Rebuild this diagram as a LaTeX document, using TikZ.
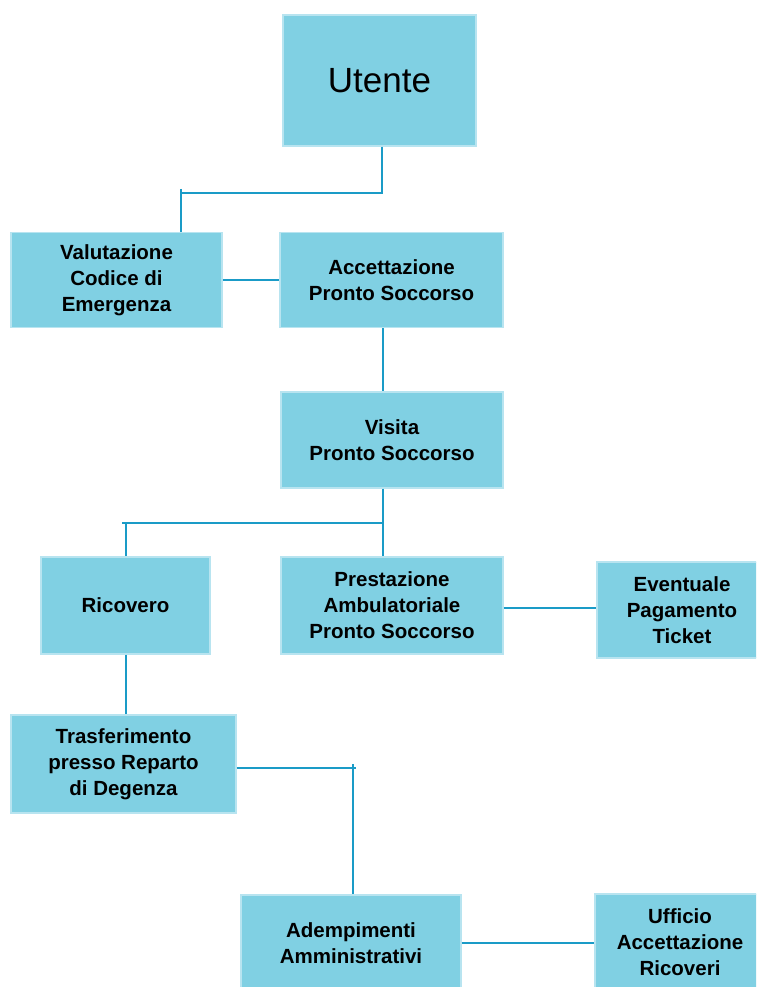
\documentclass[tikz,border=0pt]{standalone}
\usepackage{fontspec}
\setmainfont{Liberation Sans}
\definecolor{boxfill}{HTML}{80D0E3}
\definecolor{boxedge}{HTML}{B8E4F0}
\definecolor{linec}{HTML}{1A9BC7}
\begin{document}
\begin{tikzpicture}[x=1pt,y=-1pt,
  box/.style={rectangle, fill=boxfill, draw=boxedge, line width=1.2pt, inner sep=0pt, align=center,
    font=\bfseries\fontsize{20.5}{26}\selectfont},
  conn/.style={draw=linec, line width=2pt}]
\useasboundingbox (0,0) rectangle (756,987);
\clip (0,0) rectangle (756,987);
\fill[white] (0,0) rectangle (756,987);
% boxes
\node[box, minimum width=193pt, minimum height=131pt, font=\fontsize{35}{40}\selectfont] (ut) at (379.5,80.5) {Utente};
\node[box, minimum width=211pt, minimum height=95pt] (val) at (116.5,280) {Valutazione\\Codice di\\Emergenza};
\node[box, minimum width=223pt, minimum height=95pt] (acc) at (391.5,280) {Accettazione\\Pronto Soccorso};
\node[box, minimum width=222pt, minimum height=96pt] (vis) at (392,440) {Visita\\Pronto Soccorso};
\node[box, minimum width=169pt, minimum height=97pt] (ric) at (125.5,605.5) {Ricovero};
\node[box, minimum width=222pt, minimum height=97pt] (pre) at (392,605.5) {Prestazione\\Ambulatoriale\\Pronto Soccorso};
\node[box, minimum width=170pt, minimum height=96pt] (evt) at (682,610) {Eventuale\\Pagamento\\Ticket};
\node[box, minimum width=225pt, minimum height=98pt] (tra) at (123.5,764) {Trasferimento\\presso Reparto\\di Degenza};
\node[box, minimum width=220pt, minimum height=96pt] (ade) at (351,943) {Adempimenti\\Amministrativi};
\node[box, minimum width=170pt, minimum height=96pt] (uff) at (680,942) {Ufficio\\Accettazione\\Ricoveri};
% connectors
\coordinate (j1) at (382,193);
\coordinate (j1l) at (181,193);
\coordinate (j1t) at (181,189);
\draw[conn] (ut.south -| j1) -- (j1) -- (j1l);
\draw[conn] (j1t) -- (val.north -| j1t);
\draw[conn] (val.east) -- (acc.west);
\coordinate (v) at (383,523);
\coordinate (vl) at (126,523);
\coordinate (vt) at (122,523);
\draw[conn] (acc.south -| v) -- (vis.north -| v);
\draw[conn] (vis.south -| v) -- (pre.north -| v);
\draw[conn] (v) -- (vt);
\draw[conn] (vl) -- (ric.north -| vl);
\coordinate (py) at (0,608);
\draw[conn] (pre.east |- py) -- (evt.west |- py);
\draw[conn] (ric.south -| vl) -- (tra.north -| vl);
\coordinate (t) at (353,768);
\coordinate (tt) at (353,764);
\coordinate (tr) at (356,768);
\draw[conn] (tra.east |- t) -- (tr);
\draw[conn] (tt) -- (ade.north -| tt);
\coordinate (ay) at (0,943);
\draw[conn] (ade.east |- ay) -- (uff.west |- ay);
\end{tikzpicture}
\end{document}
